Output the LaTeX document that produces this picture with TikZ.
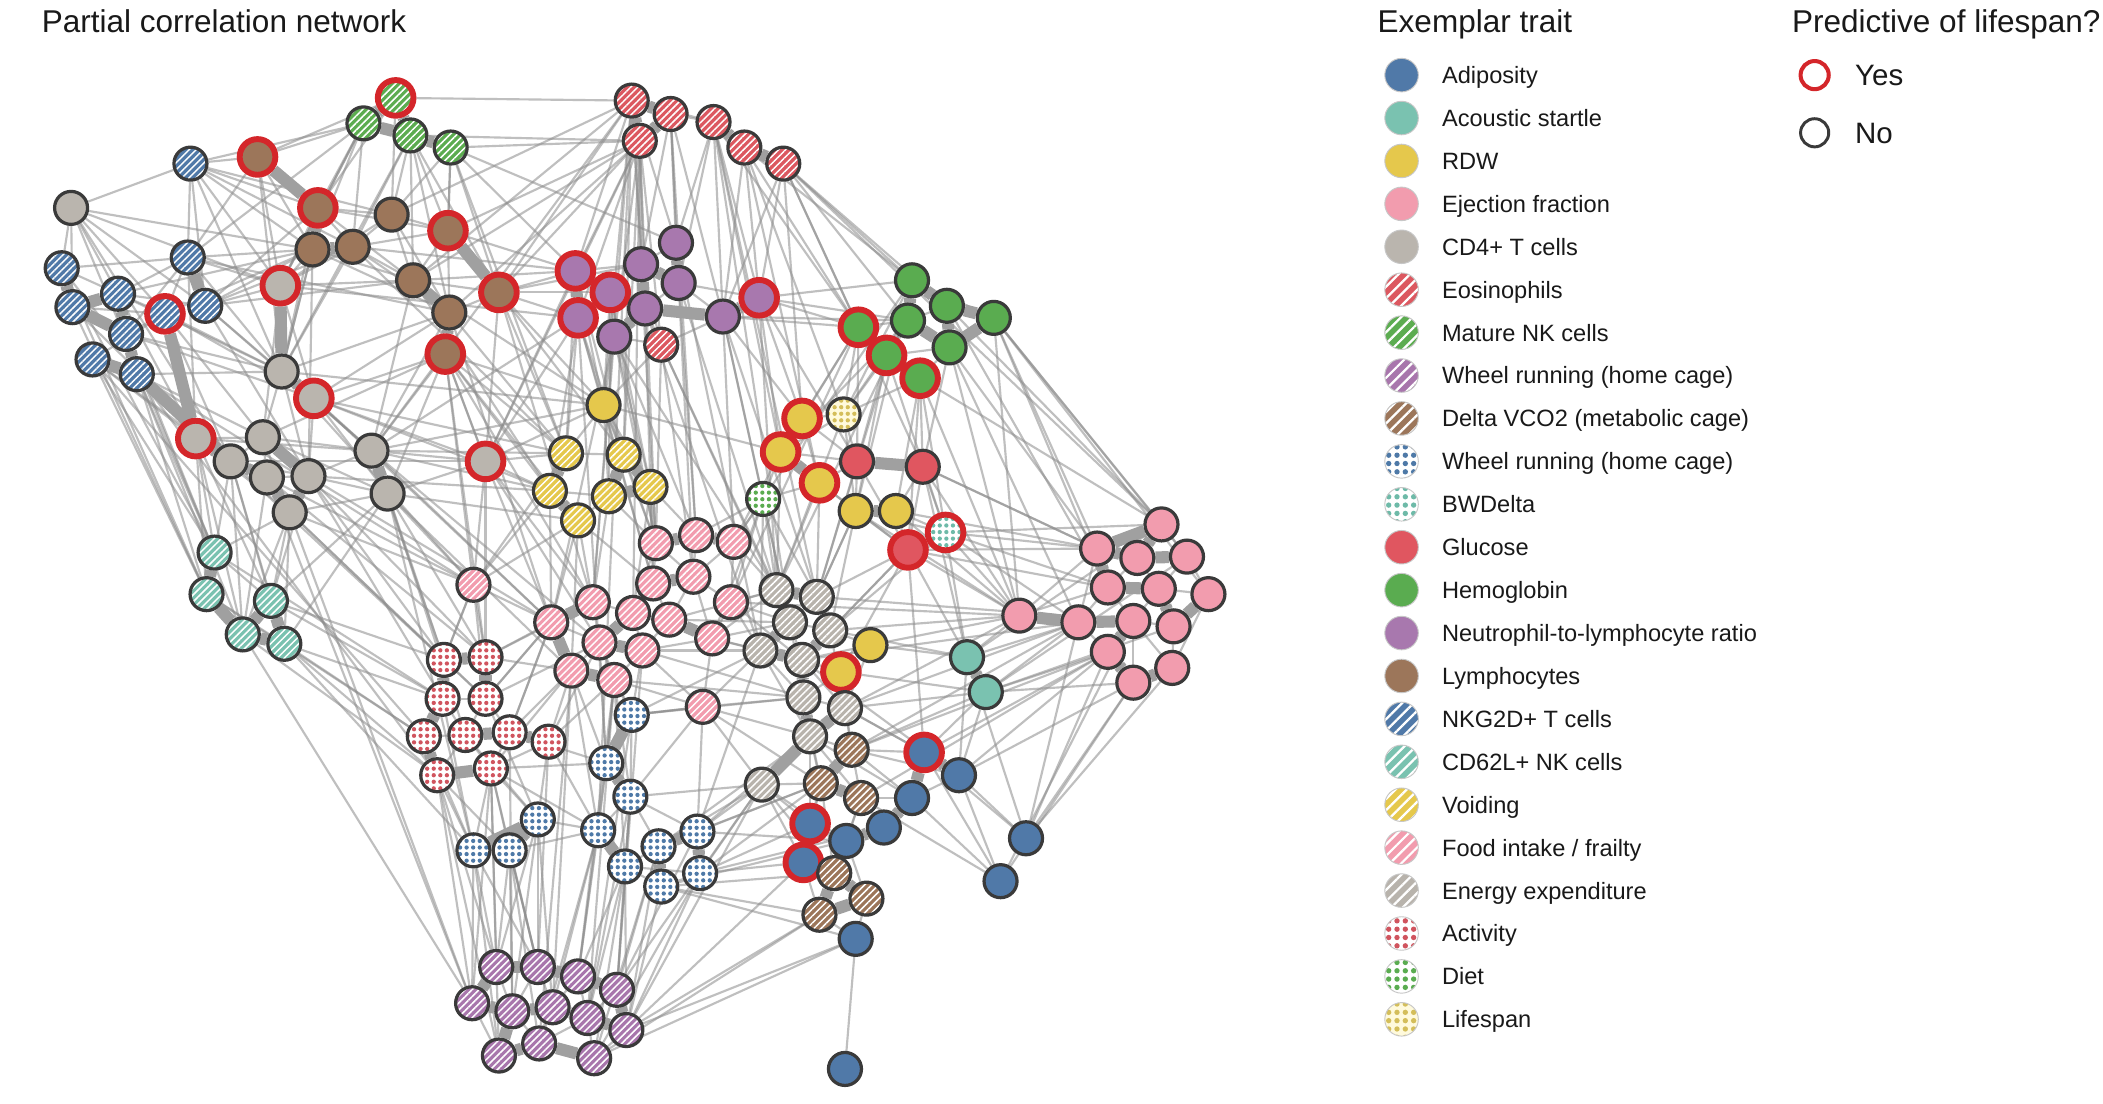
\documentclass[tikz,border=0pt]{standalone}
\usepackage{fontspec}
\setmainfont{Liberation Sans}
\usetikzlibrary{patterns.meta}
\pgfdeclarelayer{background}
\pgfsetlayers{background,main}
\definecolor{cAdip}{RGB}{80,121,168}
\definecolor{cAcou}{RGB}{122,194,176}
\definecolor{cRdw}{RGB}{229,200,76}
\definecolor{cEje}{RGB}{242,156,174}
\definecolor{cCd}{RGB}{186,181,174}
\definecolor{cEos}{RGB}{220,88,96}
\definecolor{cMnk}{RGB}{92,172,80}
\definecolor{cWhp}{RGB}{168,118,172}
\definecolor{cVco}{RGB}{156,118,90}
\definecolor{cWhb}{RGB}{78,121,167}
\definecolor{cBwd}{RGB}{110,186,168}
\definecolor{cGlu}{RGB}{224,86,96}
\definecolor{cHem}{RGB}{90,172,80}
\definecolor{cNeu}{RGB}{168,120,174}
\definecolor{cLym}{RGB}{156,118,90}
\definecolor{cNkg}{RGB}{80,121,168}
\definecolor{cCsx}{RGB}{122,194,176}
\definecolor{cVoi}{RGB}{229,200,76}
\definecolor{cFood}{RGB}{242,156,174}
\definecolor{cEnergy}{RGB}{184,179,172}
\definecolor{cAct}{RGB}{208,84,94}
\definecolor{cDiet}{RGB}{90,172,80}
\definecolor{cLife}{RGB}{212,190,90}
\definecolor{cLifeBg}{RGB}{255,250,220}
\definecolor{ringred}{RGB}{212,38,42}
\definecolor{outl}{RGB}{58,58,58}
\definecolor{edgec}{RGB}{140,140,140}
\definecolor{strongc}{RGB}{160,160,160}
\tikzset{
  netnode/.style={circle, inner sep=0pt, minimum size=24.6pt, draw=outl, line width=2.4pt},
  ringon/.style={minimum size=26.6pt, draw=ringred, line width=4.4pt},
  predring/.code={\ifnum#1=1 \pgfkeysalso{ringon}\fi},
  solidf/.style={fill=#1},
  hatchf/.style={preaction={fill=#1}, preaction={pattern={Lines[angle=45,distance=3.7pt,line width=1.1pt]}, pattern color=white}},
  dotf/.style 2 args={preaction={fill=#2}, preaction={pattern={Dots[distance=4.9pt,radius=1.6pt]}, pattern color=#1}},
  legc/.style={circle, inner sep=0pt, minimum size=25pt, draw=black!22, line width=0.7pt},
  legh/.style={preaction={fill=#1}, preaction={pattern={Lines[angle=45,distance=6pt,line width=1.7pt]}, pattern color=white}},
  legd/.style 2 args={preaction={fill=#2}, preaction={pattern={Dots[distance=6.2pt,radius=2pt]}, pattern color=#1}},
  legt/.style={anchor=base west, inner sep=0pt, font=\fontsize{17.6}{20}\selectfont, text=black!90},
  headt/.style={anchor=base west, inner sep=0pt, font=\fontsize{23.5}{28}\selectfont, text=black!90},
  ed/.style={draw=edgec, line width=1.6pt, draw opacity=0.55},
  sed/.style={draw=strongc, line width=9pt},
}
\begin{document}
\begin{tikzpicture}[x=1pt, y=-1pt]
\useasboundingbox (0,0) rectangle (1568,823);
% ---------------- nodes ----------------
\foreach \nm/\x/\y/\r in {n1/142/122/0, n2/140/192/0, n3/46/200/0, n4/88/219/0, n5/54/229/0, n6/94/249/0, n7/153/228/0, n8/123/234/1, n9/69/268/0, n10/102/279/0}
  \node[netnode, hatchf=cNkg, predring=\r] (\nm) at (\x,\y) {};
\foreach \nm/\x/\y/\r in {c1/53/155/0, c2/209/213/1, c3/210/277/0, c4/234/297/1, c5/146/327/1, c6/172/344/0, c7/196/326/0, c8/199/356/0, c9/230/355/0, c10/216/382/0, c11/277/336/0, c12/289/368/0, c13/362/344/1}
  \node[netnode, solidf=cCd, predring=\r] (\nm) at (\x,\y) {};
\foreach \nm/\x/\y/\r in {t1/160/412/0, t2/154/443/0, t3/202/448/0, t4/181/473/0, t5/212/480/0}
  \node[netnode, hatchf=cCsx, predring=\r] (\nm) at (\x,\y) {};
\foreach \nm/\x/\y/\r in {l1/192/117/1, l2/237/155/1, l3/292/160/0, l4/233/186/0, l5/263/184/0, l6/308/209/0, l7/334/172/1, l8/372/218/1, l9/335/233/0, l10/332/264/1}
  \node[netnode, solidf=cLym, predring=\r] (\nm) at (\x,\y) {};
\foreach \nm/\x/\y/\r in {m1/295/73/1, m2/271/92/0, m3/306/101/0, m4/336/110/0}
  \node[netnode, hatchf=cMnk, predring=\r] (\nm) at (\x,\y) {};
\foreach \nm/\x/\y/\r in {e1/471/75/0, e2/500/85/0, e3/477/105/0, e4/532/91/0, e5/555/110/0, e6/584/122/0, e7/493/257/0}
  \node[netnode, hatchf=cEos, predring=\r] (\nm) at (\x,\y) {};
\foreach \nm/\x/\y/\r in {p1/429/202/1, p2/455/218/1, p3/431/237/1, p4/504/181/0, p5/478/197/0, p6/506/211/0, p7/481/230/0, p8/458/251/0, p9/539/236/0, p10/566/222/1}
  \node[netnode, solidf=cNeu, predring=\r] (\nm) at (\x,\y) {};
\foreach \nm/\x/\y/\r in {h1/680/209/0, h2/706/228/0, h3/677/239/0, h4/741/237/0, h5/708/259/0, h6/640/244/1, h7/661/265/1, h8/686/282/1}
  \node[netnode, solidf=cHem, predring=\r] (\nm) at (\x,\y) {};
\node[netnode, dotf={cLife}{cLifeBg}] (ls) at (629,309) {};
\foreach \nm/\x/\y/\r in {r1/450/302/0, r2/598/312/1, r3/582/337/1, r4/611/360/1, r5/638/381/0, r6/668/381/0, r7/649/481/0, r8/627/501/1}
  \node[netnode, solidf=cRdw, predring=\r] (\nm) at (\x,\y) {};
\foreach \nm/\x/\y/\r in {g1/639/344/0, g2/688/348/0, g3/677/410/1}
  \node[netnode, solidf=cGlu, predring=\r] (\nm) at (\x,\y) {};
\node[netnode, dotf={cBwd}{white}, ringon] (bw) at (705,397) {};
\node[netnode, dotf={cDiet}{white}] (dt) at (569,372) {};
\foreach \nm/\x/\y/\r in {v1/422/338/0, v2/465/339/0, v3/410/366/0, v4/454/370/0, v5/485/363/0, v6/431/388/0}
  \node[netnode, hatchf=cVoi, predring=\r] (\nm) at (\x,\y) {};
\foreach \nm/\x/\y/\r in {a1/721/490/0, a2/735/516/0}
  \node[netnode, solidf=cAcou, predring=\r] (\nm) at (\x,\y) {};
\foreach \nm/\x/\y/\r in {j1/760/459/0, j2/866/391/0, j3/818/409/0, j4/848/416/0, j5/885/415/0, j6/826/438/0, j7/864/439/0, j8/901/443/0, j9/804/464/0, j10/845/463/0, j11/875/467/0, j12/826/486/0, j13/874/498/0, j14/845/509/0}
  \node[netnode, solidf=cEje, predring=\r] (\nm) at (\x,\y) {};
\foreach \nm/\x/\y/\r in {ad1/689/561/1, ad2/715/578/0, ad3/680/595/0, ad4/659/617/0, ad5/631/627/0, ad6/604/614/1, ad7/599/643/1, ad8/638/700/0, ad9/765/625/0, ad10/746/657/0, ad11/630/797/0}
  \node[netnode, solidf=cAdip, predring=\r] (\nm) at (\x,\y) {};
\foreach \nm/\x/\y/\r in {d1/635/559/0, d2/612/584/0, d3/642/595/0, d4/622/651/0, d5/646/670/0, d6/611/682/0}
  \node[netnode, hatchf=cVco, predring=\r] (\nm) at (\x,\y) {};
\foreach \nm/\x/\y/\r in {x1/579/440/0, x2/609/445/0, x3/589/464/0, x4/619/470/0, x5/567/485/0, x6/598/492/0, x7/599/520/0, x8/630/528/0, x9/604/549/0, x10/568/585/0}
  \node[netnode, hatchf=cEnergy, predring=\r] (\nm) at (\x,\y) {};
\foreach \nm/\x/\y/\r in {f1/489/405/0, f2/519/399/0, f3/547/404/0, f4/487/435/0, f5/517/430/0, f6/545/449/0, f7/353/436/0, f8/442/449/0, f9/411/464/0, f10/472/457/0, f11/499/462/0, f12/447/479/0, f13/479/485/0, f14/531/476/0, f15/426/500/0, f16/458/507/0, f17/524/527/0}
  \node[netnode, hatchf=cFood, predring=\r] (\nm) at (\x,\y) {};
\foreach \nm/\x/\y in {ac1/331/492, ac2/362/490, ac3/330/521, ac4/362/521, ac5/316/549, ac6/347/548, ac7/380/546, ac8/409/553, ac9/326/578, ac10/366/573}
  \node[netnode, dotf={cAct}{white}] (\nm) at (\x,\y) {};
\foreach \nm/\x/\y in {w1/471/533, w2/452/569, w3/470/594, w4/401/611, w5/353/634, w6/380/634, w7/446/619, w8/491/631, w9/520/620, w10/466/646, w11/522/651, w12/493/661}
  \node[netnode, dotf={cWhb}{white}] (\nm) at (\x,\y) {};
\foreach \nm/\x/\y/\r in {k1/370/721/0, k2/401/721/0, k3/431/728/0, k4/460/738/0, k5/352/748/0, k6/382/754/0, k7/412/751/0, k8/438/759/0, k9/467/768/0, k10/372/787/0, k11/402/778/0, k12/443/789/0}
  \node[netnode, hatchf=cWhp, predring=\r] (\nm) at (\x,\y) {};
% ---------------- edges ----------------
\begin{pgfonlayer}{background}
\fill[white] (0,0) rectangle (1568,823);
\foreach \a/\b in {c1/n1,c1/n3,c1/n4,c1/n7,c1/n8,c1/c2,c1/c6,c1/l4,c1/t1,
n1/n2,n1/l1,n1/l2,n1/l4,n1/c2,n1/m2,n1/n7,n1/l5,n1/c3,
n2/n4,n2/n8,n2/l1,n2/l4,n2/c2,n2/c3,n2/m2,n2/c5,
n3/n4,n3/n2,n3/c5,n3/t1,n3/t2,n4/n7,n4/n8,n4/l4,n4/c3,
n5/n8,n5/c6,n5/t2,n6/n8,n6/c3,n6/c4,n6/t1,
n7/l4,n7/c2,n7/c3,n7/c9,n7/l2,n8/c3,n8/c4,n8/c7,n8/l4,n8/n9,
n9/c5,n9/t1,n9/t2,n9/ac5,n10/c5,n10/c7,n10/t4,n10/c3,n10/f7,n10/t1,n10/ac9,
c2/l1,c2/l4,c2/l2,c2/l5,c2/c4,c2/c7,c2/m2,c2/l6,c2/p3,
c3/c7,c3/c9,c3/l9,c3/c11,c3/l4,c3/r1,c4/c9,c4/c11,c4/c12,c4/l10,c4/v3,c4/c13,
c5/c7,c5/t1,c5/t2,c5/t3,c5/c8,c5/c10,c6/c7,c6/c9,c6/t3,c6/t5,c6/ac1,
c7/c8,c7/c10,c7/c11,c7/l10,c8/c10,c8/c9,c8/t4,c8/f7,c8/ac2,c8/k5,
c9/c10,c9/c12,c9/c11,c9/ac1,c9/v3,c9/f9,c10/t3,c10/t5,c10/k5,c10/c12,c10/f7,c10/ac4,
c11/c12,c11/c13,c11/l10,c11/v1,c11/v3,c11/r1,c11/f9,c11/p3,
c12/c13,c12/ac2,c12/f7,c12/w5,c12/v6,c13/v1,c13/v3,c13/l10,c13/r1,c13/f7,c13/ac2,c13/p3,
t1/t2,t1/c6,t1/c10,t1/ac3,t2/ac5,t2/t5,t3/c9,t3/c12,t3/ac1,t4/ac9,t4/k5,t5/ac3,t5/ac9,t5/w5,t5/c12,
l1/l2,l1/l4,l1/m2,l1/m1,l1/c3,l2/l3,l2/l5,l2/l4,l2/m1,l2/m2,l2/l7,l2/c3,l2/l6,
l3/l5,l3/l7,l3/m3,l3/m4,l3/l6,l3/e1,l3/l9,l4/l6,l4/l9,l4/c3,l4/c9,
l5/l6,l5/l7,l5/l9,l5/m3,l5/p1,l6/l7,l6/l9,l6/l8,l6/p1,l6/r1,l6/c11,
l7/l8,l7/m4,l7/m3,l7/p1,l7/e3,l7/l9,
l8/l9,l8/p1,l8/p2,l8/p3,l8/e1,l8/p5,l8/r1,l8/c13,l8/v1,l8/v2,
l9/l10,l9/c11,l9/v1,l10/c12,l10/c13,l10/r1,l10/v1,l10/v3,l10/f7,
m1/m2,m1/m3,m1/e1,m1/l3,m2/m3,m2/l4,m2/l5,m2/c2,m3/m4,m3/l6,m3/l8,m3/l9,m3/e3,
m4/e3,m4/l8,m4/p1,m4/p4,m4/l7,
e1/e2,e1/e3,e1/p5,e1/p1,e1/p4,e1/r1,e1/v2,e1/e4,e1/l6,e1/c11,
e2/e3,e2/e4,e2/p4,e2/p6,e2/p9,e2/l9,
e3/p1,e3/p5,e3/p7,e3/p3,e3/e7,e3/v2,e3/f1,e3/l8,e3/c13,
e4/e5,e4/p4,e4/p9,e4/p10,e4/h6,e4/x2,e5/e6,e5/p10,e5/h1,e5/h6,e5/ls,e5/r4,
e6/h1,e6/h3,e6/p10,e6/h6,e6/r2,e6/g2,e6/j2,
e7/p5,e7/p8,e7/p9,e7/p7,e7/r1,e7/f1,e7/x1,
p1/p2,p1/p3,p1/p5,p1/r1,p1/v1,p1/v2,p1/c13,p2/p3,p2/p7,p2/p8,p2/r1,p2/f1,p2/v5,
p3/p8,p3/r1,p3/v2,p3/v1,p3/f4,p3/w2,
p4/p5,p4/p6,p5/p6,p5/p7,p6/p7,p6/p9,p6/p10,p6/f5,p7/p8,p7/p9,p7/x5,
p8/r1,p8/f1,p8/f2,p8/v5,p8/x1,p8/f9,p9/p10,p9/h6,p9/r2,p9/h3,p9/f3,p9/dt,p9/x3,
p10/h6,p10/h1,p10/h3,p10/r2,p10/x1,p10/g1,
h1/h2,h1/h3,h1/h4,h1/f3,h2/h4,h2/h5,h2/h3,h2/j2,h3/h5,h3/h6,h3/h7,h3/x1,
h4/h5,h4/j3,h4/j2,h4/j1,h4/j5,h5/h7,h5/h8,h5/g2,h5/j3,
h6/h7,h6/ls,h6/r2,h6/r3,h6/f6,h7/h8,h7/ls,h7/g1,h7/bw,h8/g2,h8/bw,h8/g3,h8/ls,h8/j1}
  \draw[ed] (\a) -- (\b);
\foreach \a/\b in {r1/v2,r1/v1,r1/v5,r1/f1,r1/r3,r2/r3,r2/ls,r2/r4,r2/g1,
r3/r4,r3/dt,r3/g1,r3/x1,r3/f3,r3/ls,r4/g1,r4/r5,r4/dt,r4/x2,r4/g3,
r5/r6,r5/g1,r5/g3,r5/bw,r5/x2,r5/x4,r6/g2,r6/bw,r6/g3,r6/j1,
g1/g2,g1/g3,g2/bw,g2/g3,g2/j1,g3/x4,g3/x2,g3/r8,g3/a1,g3/j1,g3/ad1,g3/j3,
bw/j1,bw/j3,bw/a1,bw/j9,bw/j2,
dt/x1,dt/f3,dt/f2,dt/x3,dt/f6,dt/x2,dt/x5,dt/f14,
v1/v2,v1/v3,v1/f7,v2/v5,v2/v4,v2/f1,v3/v4,v3/v6,v3/f7,v3/f9,
v4/v6,v4/v5,v4/f8,v5/f1,v5/f2,v5/f4,v6/f9,v6/f8,v6/f7,v6/f15,
f1/f2,f1/f4,f1/f5,f1/f10,f2/f3,f2/f5,f3/f6,f3/f5,f3/x1,f4/f5,f4/f10,f4/f11,
f5/f6,f5/f11,f5/f14,f6/f14,f6/x5,f6/x1,f6/x3,f7/f9,f7/ac2,f7/ac4,
f8/f9,f8/f10,f8/f12,f8/e1,f9/f12,f9/f15,f9/ac4,f9/ac7,f10/f11,f10/f12,f10/f13,
f11/f13,f11/f14,f12/f13,f12/f15,f12/f16,f13/f16,f13/f17,f13/f14,f14/f17,f14/x5,
f15/f16,f15/ac7,f15/ac8,f15/w2,f16/w1,f16/w2,f16/f17,f17/w1,f17/x7,f17/x10,f17/w9,
x1/x2,x1/x3,x2/x3,x2/x4,x3/x4,x3/x5,x3/x6,x4/x6,x4/x8,x4/r7,x5/x6,x5/x7,x6/x7,x6/x8,x6/r7,x6/r8,
x7/x8,x7/x9,x7/r8,x8/x9,x8/d1,x8/r8,x8/r7,x9/x10,x9/d1,x9/d2,x9/ad6,x10/d2,x10/ad6,x10/ad7,x10/w9,
d1/d2,d1/d3,d1/ad1,d1/ad2,d1/ad3,d2/d3,d2/ad6,d2/ad7,d2/d4,d3/ad3,d3/ad4,d3/ad5,d3/d4,
d4/d5,d4/d6,d4/ad7,d4/ad5,d5/d6,d5/ad8,d5/ad5,d6/ad8,d6/ad7,d6/k9,
ad1/ad2,ad1/ad3,ad1/a2,ad1/ad9,ad1/ad10,ad2/ad3,ad2/ad9,ad2/ad10,ad2/a1,ad2/a2,
ad3/ad4,ad3/ad10,ad4/ad5,ad5/ad6,ad6/ad7,ad8/ad11,ad9/j9,ad9/j12,
a1/a2,a1/j1,a1/j9,a2/j12,a2/j9,a2/j14,
j1/j9,j1/j3,j1/j6,j2/j3,j2/j4,j2/j5,j3/j4,j3/j6,j3/j9,j4/j5,j4/j6,j4/j7,j5/j7,j5/j8,
j6/j7,j6/j9,j6/j10,j7/j8,j7/j10,j7/j11,j8/j11,j9/j10,j9/j12,
j10/j11,j10/j12,j10/j13,j10/j14,j11/j13,j12/j14,j13/j14,
ac1/ac2,ac1/ac3,ac1/ac4,ac2/ac4,ac3/ac4,ac3/ac5,ac3/ac6,ac4/ac6,ac4/ac7,ac5/ac6,ac5/ac9,
ac6/ac7,ac6/ac9,ac6/ac10,ac7/ac8,ac7/ac10,ac8/ac10,ac8/w4,ac9/ac10,ac9/w5,ac9/k5,
ac10/w4,ac10/w5,ac10/w6,w1/w2,w1/w3,w2/w3,w2/w7,w3/w7,w3/w8,w3/w10,
w4/w5,w4/w6,w5/w6,w5/k1,w6/k2,w7/w10,w8/w9,w8/w10,w8/w12,w9/w11,w10/w12,w11/w12,
k1/k2,k1/k5,k1/k6,k2/k3,k2/k6,k2/k7,k3/k4,k3/k7,k3/k8,k4/k8,k4/k9,k5/k6,k5/k10,
k6/k7,k6/k10,k6/k11,k7/k8,k7/k11,k8/k9,k8/k11,k8/k12,k9/k12,k10/k11,k11/k12}
  \draw[ed] (\a) -- (\b);
\foreach \a/\b in {ad1/x8,ad2/x6,ad3/x9,ad4/w11,ad5/w9,ad7/w11,ad8/w12,ad8/k9,
w1/x5,w3/x10,w8/x9,w11/d2,w12/d4,w10/f16,ac2/f8,c12/ac6,c13/f12,c11/ac1,c4/f9,c3/f7,
l10/ac2,l8/f8,l9/f9,l6/v3,j1/x4,j1/r7,j9/x8,j3/r6,j6/g3,j14/ad2,j12/d1,j10/x2,j9/x6,j1/f6,j12/ad1,
r7/a1,r8/d1,a1/x4,a2/x8,a2/d1,ls/g1,ls/x1,ls/r5,e2/f2,
k1/w4,k2/w6,k3/w7,k4/w10,k9/w12,k4/x10,k9/ad7,k12/d6,k8/f16,k2/ac10,k1/ac9,
ac8/f12,ac4/w4,ac10/w2,ac8/w7,ac2/f9,f11/x1,f14/x3,f13/w1,f17/x5,f16/w3,f12/w2,
p5/f1,p4/f2,p6/x1,e7/f5,e7/x3,p9/x2,p10/r3,h1/x2,h3/ls,e3/l6,
c13/f9,c13/f8,c12/f15,c11/f12,c9/ac3,c10/ac1,l10/f8,l10/v6,c4/v1,
j1/r5,j3/g2,j9/d1,j12/d3,j14/ad9,j13/ad9,j10/ad10,j2/h8,j8/h4,ad10/d3,ad9/a1,
e1/w7,e3/f10,e4/x3,p4/x5,l5/v1,n7/l6,n2/l9,n7/c11,c5/c11,c6/c13,m3/c3,m4/v1,
h1/r5,h2/j6,h5/j9,g2/a1,bw/x4,r8/a2,x5/w9,x10/ad5,w9/d2,w11/ad6,k12/w11,k10/ac9,f7/ac1}
  \draw[ed] (\a) -- (\b);
\foreach \a/\b in {k1/ac10,k1/w6,k2/w5,k2/w4,k3/w10,k3/w2,k4/w3,k4/w8,k5/ac10,k5/w5,k6/w6,k6/w4,
k7/w7,k7/w4,k8/w10,k8/w3,k9/w8,k9/w10,k10/ac10,k10/w5,k11/w6,k11/w7,k12/w10,k12/w8,
k3/f16,k4/f13,k7/f15,k2/ac8,k6/ac7,k9/w11,k9/x10,k12/ad8,k11/f15,k8/w1,k4/w9,
ac1/f7,ac2/f15,ac4/f12,ac6/w4,ac7/w2,ac8/f16,ac10/f15,ac3/w5,ac5/w5,ac9/w6,ac4/f9,ac7/f9,ac10/w7,
w1/f17,w1/x7,w2/f16,w3/w9,w4/w7,w6/w7,w7/f15,w8/x10,w9/x9,w10/w3,w11/x10,w12/d6,w12/ad5,w8/d2,w3/f17,w10/w11,
f13/x5,f14/x6,f16/x7,f17/x9,f12/w1,f10/f14,f11/x3,f13/x7,f6/x6,f14/x1,f17/d2,
x3/x7,x5/x9,x7/d2,x10/d4,x8/ad1,x9/d3,x2/r5,x1/r4,x4/g3,x6/x9,
p7/f4,p8/f8,p2/v4,p3/v3,v6/f4,v4/f1,v5/f10,r1/f4,r1/v4,
e1/p7,e3/p8,e2/p5,e4/p6,e5/p9,e6/h2,e6/p9,e4/r3,
h1/ls,h3/r3,h6/g1,h7/r5,h8/r6,h5/j1,h4/j6,g2/j3,g1/x2,
j1/x8,j2/a1,j5/a2,j8/j13,j11/a2,j14/ad10,j12/ad2,j6/bw,
n1/l3,n2/n6,n4/c5,n7/l5,n8/c6,n9/c6,n10/t2,c1/n5,c2/l3,c3/l5,c4/l9,c7/c12,c5/t4,c6/t4,
t1/t3,t3/ac3,t5/ac5,c12/ac1,c9/ac2,c10/t4}
  \draw[ed] (\a) -- (\b);
\foreach \a/\b in {n3/n5,n4/n6,n5/n6,n6/n10,n9/n10,n2/n7,n8/c5,n10/c6,n4/n5,
c2/c3,c3/c4,c5/c6,c6/c8,c7/c9,c8/c10,c11/c12,c9/c10,
l1/l2,l4/l5,l2/l4,l7/l8,l9/l10,l6/l9,m1/m2,m1/m3,m2/m3,m3/m4,
e1/e2,e1/e3,e2/e3,e5/e6,e4/e5,
p1/p3,p2/p7,p5/p6,p4/p6,p7/p9,p9/p10,p7/p8,p1/p2,p5/p7,
h1/h3,h2/h4,h3/h5,h2/h5,h4/h5,h6/h7,h7/h8,h1/h2,
v1/v3,v3/v6,v2/v4,v4/v5,v2/v5,t1/t2,t2/t4,t3/t4,t4/t5,t3/t5,
j1/j9,j2/j3,j3/j4,j4/j5,j6/j7,j9/j10,j10/j12,j12/j14,j13/j14,j8/j11,j3/j6,j7/j11,j2/j4,
a1/a2,g3/bw,g1/g2,ad1/ad2,ad3/ad4,ad4/ad5,ad6/ad7,ad1/ad3,
d1/d2,d2/d3,d4/d5,d5/d6,d4/d6,
x1/x2,x1/x3,x3/x5,x5/x6,x6/x7,x7/x9,x9/x10,x2/x4,x4/x6,x8/x9,
f4/f5,f1/f2,f8/f9,f10/f12,f12/f13,f15/f16,f9/f15,f11/f14,f2/f3,
ac1/ac3,ac2/ac4,ac3/ac5,ac6/ac7,ac5/ac9,ac9/ac10,ac7/ac8,ac1/ac2,
w4/w5,w4/w6,w5/w6,w7/w10,w8/w9,w8/w12,w9/w11,w1/w2,w2/w3,
k1/k5,k5/k6,k6/k10,k2/k3,k3/k4,k7/k8,k8/k9,k11/k12,k10/k11,k4/k9,k1/k2,k6/k7,
r3/r4,r2/r3,r5/r6}
  \draw[sed] (\a) -- (\b);
\end{pgfonlayer}
% ---------------- titles ----------------
\node[headt] (title) at (31,24) {Partial correlation network};
\node[headt] (legtitle) at (1027,24) {Exemplar trait};
\node[headt] (predtitle) at (1336,24) {Predictive of lifespan?};
% ---------------- legend: traits ----------------
\node[legc, fill=cAdip] (lg1) at (1045,56) {};   \node[legt] (lt1) at (1075,62.3) {Adiposity};
\node[legc, fill=cAcou] (lg2) at (1045,88) {};   \node[legt] (lt2) at (1075,94.3) {Acoustic startle};
\node[legc, fill=cRdw] (lg3) at (1045,120) {};   \node[legt] (lt3) at (1075,126.3) {RDW};
\node[legc, fill=cEje] (lg4) at (1045,152) {};   \node[legt] (lt4) at (1075,158.3) {Ejection fraction};
\node[legc, fill=cCd] (lg5) at (1045,184) {};    \node[legt] (lt5) at (1075,190.3) {CD4+ T cells};
\node[legc, legh=cEos] (lg6) at (1045,216) {};   \node[legt] (lt6) at (1075,222.3) {Eosinophils};
\node[legc, legh=cMnk] (lg7) at (1045,248) {};   \node[legt] (lt7) at (1075,254.3) {Mature NK cells};
\node[legc, legh=cWhp] (lg8) at (1045,280) {};   \node[legt] (lt8) at (1075,286.3) {Wheel running (home cage)};
\node[legc, legh=cVco] (lg9) at (1045,312) {};   \node[legt] (lt9) at (1075,318.3) {Delta VCO2 (metabolic cage)};
\node[legc, legd={cWhb}{white}] (lg10) at (1045,344) {}; \node[legt] (lt10) at (1075,350.3) {Wheel running (home cage)};
\node[legc, legd={cBwd}{white}] (lg11) at (1045,376) {}; \node[legt] (lt11) at (1075,382.3) {BWDelta};
\node[legc, fill=cGlu] (lg12) at (1045,408) {};  \node[legt] (lt12) at (1075,414.3) {Glucose};
\node[legc, fill=cHem] (lg13) at (1045,440) {};  \node[legt] (lt13) at (1075,446.3) {Hemoglobin};
\node[legc, fill=cNeu] (lg14) at (1045,472) {};  \node[legt] (lt14) at (1075,478.3) {Neutrophil-to-lymphocyte ratio};
\node[legc, fill=cLym] (lg15) at (1045,504) {};  \node[legt] (lt15) at (1075,510.3) {Lymphocytes};
\node[legc, legh=cNkg] (lg16) at (1045,536) {};  \node[legt] (lt16) at (1075,542.3) {NKG2D+ T cells};
\node[legc, legh=cCsx] (lg17) at (1045,568) {};  \node[legt] (lt17) at (1075,574.3) {CD62L+ NK cells};
\node[legc, legh=cVoi] (lg18) at (1045,600) {};  \node[legt] (lt18) at (1075,606.3) {Voiding};
\node[legc, legh=cFood] (lg19) at (1045,632) {}; \node[legt] (lt19) at (1075,638.3) {Food intake / frailty};
\node[legc, legh=cEnergy] (lg20) at (1045,664) {}; \node[legt] (lt20) at (1075,670.3) {Energy expenditure};
\node[legc, legd={cAct}{white}] (lg21) at (1045,696) {};  \node[legt] (lt21) at (1075,702.3) {Activity};
\node[legc, legd={cDiet}{white}] (lg22) at (1045,728) {}; \node[legt] (lt22) at (1075,734.3) {Diet};
\node[legc, legd={cLife}{cLifeBg}] (lg23) at (1045,760) {}; \node[legt] (lt23) at (1075,766.3) {Lifespan};
% ---------------- legend: predictive ----------------
\node[circle, inner sep=0pt, minimum size=21pt, draw=ringred, line width=3pt] (yes) at (1353,56) {};
\node[anchor=base west, inner sep=0pt, font=\fontsize{22}{26}\selectfont, text=black!90] (yestext) at (1383,64) {Yes};
\node[circle, inner sep=0pt, minimum size=21pt, draw=outl, line width=2.2pt] (no) at (1353,99) {};
\node[anchor=base west, inner sep=0pt, font=\fontsize{22}{26}\selectfont, text=black!90] (notext) at (1383,107) {No};
\end{tikzpicture}
\end{document}
